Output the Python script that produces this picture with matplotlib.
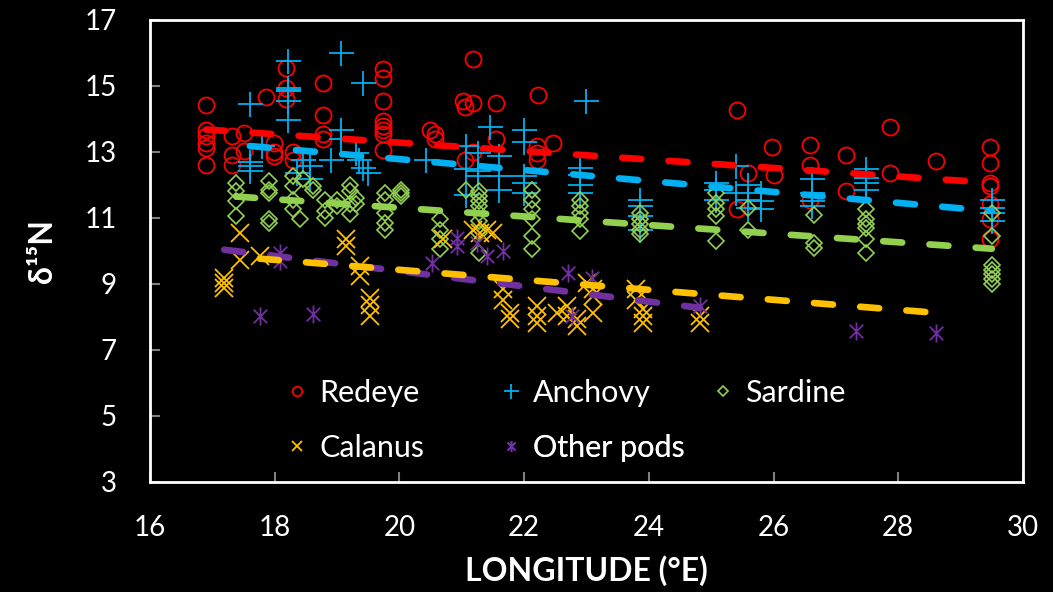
import numpy as np
import matplotlib
matplotlib.use('Agg')
import matplotlib.pyplot as plt
from matplotlib.path import Path

plt.rcParams['font.family'] = ['Lato', 'DejaVu Sans']

# values (longitude °E, d15N)
redeye_lon = [16.9]*6 + [17.31]*3 + [17.5]*2 + [17.86] + [17.98]*3 + [18.18]*3 + [18.3]*2 \
    + [18.78]*4 + [19.74]*8 + [20.49, 20.57, 20.57] + [21.18, 21.02, 21.05, 21.18, 21.55, 21.18, 21.05, 21.55] \
    + [22.22, 22.2, 22.2, 22.2, 22.47] + [25.41, 25.41, 25.59, 25.97, 26.0] + [26.58]*3 + [27.16]*2 \
    + [27.87]*2 + [28.6] + [29.47]*7
redeye_d15n = [14.41, 13.67, 13.47, 13.27, 13.12, 12.61, 13.47, 12.91, 12.61, 13.57, 13.01, 14.66,
               13.27, 13.0, 12.86, 15.54, 14.93, 14.58, 13.0, 12.76, 15.08, 14.1, 13.52, 13.37,
               15.5, 15.23, 14.53, 13.92, 13.79, 13.67, 13.52, 13.06, 13.67, 13.52, 13.37,
               15.81, 14.53, 14.36, 14.48, 14.48, 13.0, 12.76, 13.37, 14.73, 13.17, 12.96, 12.76, 13.27,
               14.26, 11.25, 12.36, 13.13, 12.3, 13.19, 12.59, 11.55, 12.9, 11.8, 13.75, 12.36, 12.71,
               13.13, 12.66, 12.06, 11.95, 11.42, 10.95, 10.36]

anchovy_lon = [17.6]*4 + [17.79] + [18.21]*6 + [18.45, 18.56, 18.56, 18.35, 18.9] + [19.07]*3 + [19.42] \
    + [19.3, 19.35, 19.42, 19.5, 20.43, 21.45] + [21.07]*3 + [21.26]*3 + [21.59]*3 + [22.0]*5 + [22.99] \
    + [22.9]*4 + [23.86]*4 + [25.07]*3 + [25.4]*2 + [25.59]*3 + [25.8]*3 + [26.61]*4 + [27.48]*4 + [29.5]*4
anchovy_d15n = [14.43, 12.56, 12.4, 12.7, 13.17, 15.74, 14.93, 14.88, 14.83, 14.53, 13.97,
                12.76, 12.56, 12.16, 12.36, 12.76, 15.99, 13.67, 13.37, 15.08,
                12.96, 12.76, 12.5, 12.36, 12.76, 13.75, 13.17, 12.46, 11.7, 12.96, 12.4, 12.26,
                12.86, 12.26, 11.85, 13.67, 13.3, 12.26, 12.06, 11.75, 14.53, 12.5, 12.3, 12.0, 11.75,
                11.55, 11.35, 11.05, 10.64, 12.06, 11.85, 11.55, 12.56, 11.75, 12.0, 11.55, 11.3,
                11.75, 11.5, 11.25, 12.18, 11.75, 11.5, 11.35, 12.46, 12.2, 12.06, 11.85,
                11.55, 11.3, 11.15, 10.9]

sardine_lon = [17.38]*4 + [17.9]*5 + [18.3]*4 + [18.4, 18.46, 18.62, 18.62] + [18.8]*3 + [19.0]*2 \
    + [19.2]*4 + [19.3]*2 + [19.77]*5 + [20.03]*3 + [20.65]*4 + [21.07] + [21.28]*8 + [22.12]*6 \
    + [22.9]*5 + [23.86]*5 + [25.07]*5 + [25.59]*2 + [26.65]*3 + [27.48]*6 + [29.5]*7
sardine_d15n = [12.06, 11.8, 11.5, 11.05, 12.1, 11.85, 11.75, 10.95, 10.85, 12.26, 11.95, 11.55, 11.25,
                10.95, 12.16, 11.95, 11.85, 11.55, 11.2, 11.0, 11.55, 11.35, 12.0, 11.8, 11.4, 11.1,
                11.6, 11.4, 11.75, 11.55, 11.15, 10.85, 10.64, 11.85, 11.75, 11.65,
                10.95, 10.64, 10.34, 10.04, 11.85, 11.8, 11.65, 11.5, 11.35, 11.15, 10.9, 10.54, 9.94,
                11.85, 11.55, 11.25, 10.95, 10.44, 10.04, 11.55, 11.35, 11.15, 10.95, 10.6,
                11.15, 10.95, 10.8, 10.64, 10.5, 11.75, 11.45, 11.25, 11.05, 10.29, 11.3, 10.64,
                11.07, 10.24, 10.09, 11.25, 10.95, 10.8, 10.7, 10.34, 9.94,
                11.15, 10.44, 9.58, 9.43, 9.28, 9.13, 8.98]

calanus_lon = [17.19]*3 + [17.44]*2 + [17.76] + [19.15]*2 + [19.37]*2 + [19.53]*3 + [20.7, 21.18, 21.29, 21.4, 21.5] \
    + [21.66]*2 + [21.77]*2 + [22.2]*3 + [22.52, 22.68, 22.68, 22.84, 22.84, 23.0] + [23.11]*3 \
    + [23.8]*2 + [23.91]*3 + [24.82]*2
calanus_d15n = [9.18, 9.03, 8.88, 10.54, 9.73, 9.84, 10.34, 10.14, 9.53, 9.23, 8.57, 8.37, 8.02,
                10.34, 10.64, 10.54, 10.64, 10.54, 8.83, 8.52, 8.12, 7.92, 8.32, 8.02, 7.82,
                8.12, 8.32, 8.02, 7.92, 7.72, 9.03, 8.83, 8.63, 8.12, 8.83, 8.52, 8.22, 8.02, 7.82,
                8.02, 7.82]

pods_lon = [17.76, 18.08, 18.08, 18.62, 20.52, 20.92, 20.92, 21.24, 21.4, 21.66, 22.71, 22.76,
            23.08, 24.82, 27.32, 28.6]
pods_d15n = [8.02, 9.68, 9.93, 8.07, 9.63, 10.39, 10.14, 10.24, 9.83, 9.99, 9.33, 8.02,
             9.18, 8.32, 7.57, 7.51]

# linear trend lines as drawn in the reference: (lon start, lon end), (d15N start, d15N end)
trend_lon = {'Redeye': (16.9, 29.47), 'Anchovy': (17.6, 29.5), 'Sardine': (17.38, 29.5),
             'Calanus': (17.19, 24.82), 'Other pods': (17.76, 28.6)}
trend_d15n = {'Redeye': (13.67, 12.06), 'Anchovy': (13.17, 11.2), 'Sardine': (11.64, 10.06),
              'Calanus': (10.03, 8.27), 'Other pods': (9.76, 8.12)}

RED, BLUE, GREEN, YELLOW, PURPLE = '#FF0000', '#00B0F0', '#92D050', '#FFC000', '#7030A0'
# calanus / other pods trend colours are swapped in the original
trend_col = {'Redeye': RED, 'Anchovy': BLUE, 'Sardine': GREEN, 'Calanus': PURPLE, 'Other pods': YELLOW}

# six-armed asterisk like the office marker
star = Path([(0, -1), (0, 1), (-0.75, -0.75), (0.75, 0.75), (-0.75, 0.75), (0.75, -0.75)],
            [Path.MOVETO, Path.LINETO] * 3)

fig = plt.figure(figsize=(10.53, 5.92), dpi=100, facecolor='black')
ax = fig.add_axes([0.1425, 0.186, 0.829, 0.781], facecolor='black')

h_red, = ax.plot(redeye_lon, redeye_d15n, 'o', ms=11.5, mfc='none', mec=RED, mew=1.3)
h_anc, = ax.plot(anchovy_lon, anchovy_d15n, '+', ms=18, mec=BLUE, mew=1.3)
h_sar, = ax.plot(sardine_lon, sardine_d15n, 'D', ms=8.5, mfc='none', mec=GREEN, mew=1.2)
h_cal, = ax.plot(calanus_lon, calanus_d15n, 'x', ms=13, mec=YELLOW, mew=1.3)
h_pod, = ax.plot(pods_lon, pods_d15n, ls='none', marker=star, ms=13, mec=PURPLE, mew=1.3)

for name in trend_lon:
    ax.plot(trend_lon[name], trend_d15n[name], color=trend_col[name], lw=4.8,
            dashes=(2.85, 4.1), dash_capstyle='round', zorder=5)

ax.set_xlim(16, 30)
ax.set_ylim(3, 17)
ax.set_xticks(np.arange(16, 31, 2))
ax.set_yticks(np.arange(3, 18, 2))
ax.tick_params(direction='in', length=7, width=1.5, color='#808080', labelcolor='white',
               labelsize=20, pad=24)
for s in ax.spines.values():
    s.set_color('white')
    s.set_linewidth(2)

ax.set_xlabel('LONGITUDE (°E)', color='white', fontsize=23, fontweight='bold', labelpad=10)
ax.set_ylabel('δ¹⁵N', color='white', fontsize=23, fontweight='bold', labelpad=20)

# excel-style legend: equal column widths, so one small legend per entry
legend_items = [(h_red, 'Redeye', 0.1561, 0.193), (h_anc, 'Anchovy', 0.4013, 0.193),
                (h_sar, 'Sardine', 0.6441, 0.193), (h_cal, 'Calanus', 0.1561, 0.074),
                (h_pod, 'Other pods', 0.4013, 0.074)]
for h, lab, lx, ly in legend_items:
    lg = ax.legend([h], [lab], loc='center left', bbox_to_anchor=(lx, ly), frameon=False,
                   fontsize=22, labelcolor='white', markerscale=0.6, handlelength=0.7,
                   handletextpad=0.37, borderpad=0, borderaxespad=0)
    ax.add_artist(lg)

fig.savefig('out.png', dpi=100, facecolor='black')
